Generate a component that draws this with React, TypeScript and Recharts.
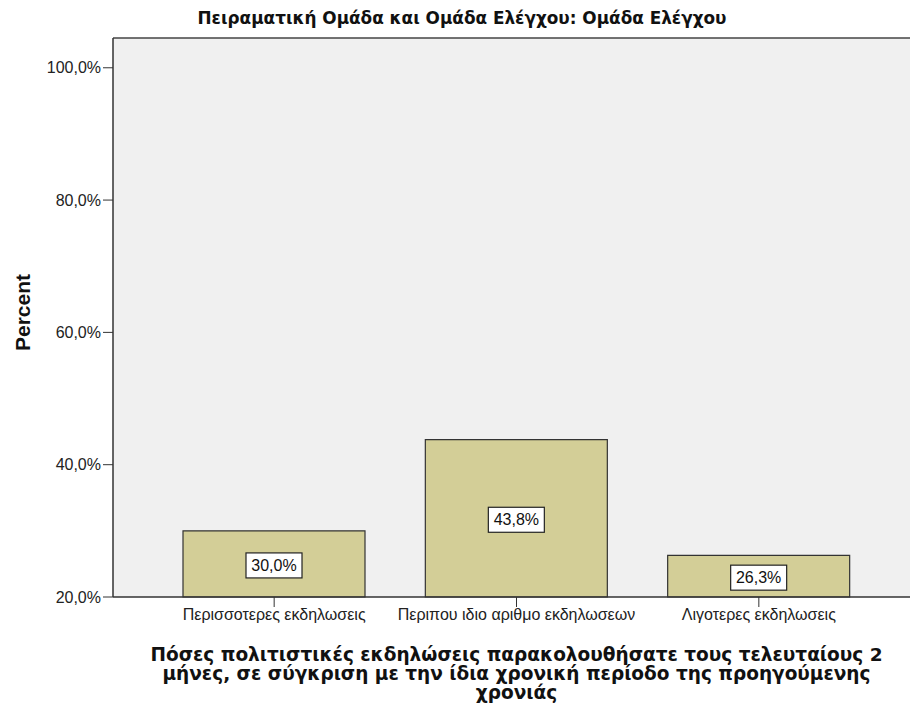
import { BarChart, Bar, XAxis, YAxis, CartesianGrid, ReferenceLine, LabelList, Label } from "recharts";

const categories = ["Περισσοτερες εκδηλωσεις", "Περιπου ιδιο αριθμο εκδηλωσεων", "Λιγοτερες εκδηλωσεις"];
const percents = [30.0, 43.8, 26.3];
const yTicks = [20, 40, 60, 80, 100];
const yMin = 20;
const yMax = 104.5;
const title = "Πειραματική Ομάδα και Ομάδα Ελέγχου: Ομάδα Ελέγχου";
const yTitle = "Percent";
const xTitleLines = [
  "Πόσες πολιτιστικές εκδηλώσεις παρακολουθήσατε τους τελευταίους 2",
  "μήνες, σε σύγκριση με την ίδια χρονική περίοδο της προηγούμενης",
  "χρονιάς",
];

const data = categories.map((name, i) => ({ name, percent: percents[i] }));
const fmt = (v: number) => v.toFixed(1).replace(".", ",") + "%";
const font = "'Liberation Sans', Arial, sans-serif";
const titleFont = "'DejaVu Sans', Verdana, sans-serif";

function ValueBox(props: any) {
  const { x, y, width, height, value } = props;
  const cx = x + width / 2;
  const cy = y + height / 2 + 1;
  return (
    <g>
      <rect x={cx - 28} y={cy - 12} width={56} height={25} fill="#fff" stroke="#222" strokeWidth={1.2} />
      <text x={cx} y={cy + 6} textAnchor="middle" fontSize={16} fill="#111" fontFamily={font}>
        {fmt(value)}
      </text>
    </g>
  );
}

function XTitle(props: any) {
  const { x, y, width } = props.viewBox;
  const cx = x + width / 2;
  return (
    <text textAnchor="middle" fontSize={18.5} fontWeight="bold" fill="#111" fontFamily={titleFont}>
      {xTitleLines.map((line, i) => (
        <tspan key={i} x={cx} y={y + 64 + i * 19}>
          {line}
        </tspan>
      ))}
    </text>
  );
}

function YTitle(props: any) {
  const { y, height } = props.viewBox;
  const cy = y + height / 2 - 5;
  return (
    <text x={22} y={cy} transform={`rotate(-90 22 ${cy})`} textAnchor="middle" dominantBaseline="central"
      fontSize={21} fontWeight="bold" fill="#111" fontFamily={font}>
      {yTitle}
    </text>
  );
}

export default function App() {
  return (
    <div style={{ position: "fixed", left: 0, top: 0, width: 910, height: 709, overflow: "hidden", background: "#fff" }}>
      <svg width={910} height={38} style={{ position: "absolute", left: 0, top: 0 }}>
        <text x={462} y={24} textAnchor="middle" fontSize={17} fontWeight="bold" fill="#111"
          textLength={529} lengthAdjust="spacingAndGlyphs"
          fontFamily="'Liberation Sans Narrow', 'DejaVu Sans Condensed', sans-serif">
          {title}
        </text>
      </svg>
      <BarChart width={920} height={709} data={data} margin={{ top: 38, right: 0, left: 0, bottom: 0 }}
        style={{ position: "absolute", left: 0, top: 0 }}>
        <CartesianGrid fill="#f0f0f0" horizontal={false} vertical={false} />
        <ReferenceLine y={yMax} stroke="#444" strokeWidth={1.5} ifOverflow="visible" />
        <XAxis dataKey="name" height={112} padding={{ left: 40, right: 40 }} tickSize={10}
          axisLine={{ stroke: "#333", strokeWidth: 1.5 }} tickLine={{ stroke: "#333" }}
          tick={{ fontSize: 16, fill: "#222", fontFamily: font }} interval={0}>
          <Label content={<XTitle />} />
        </XAxis>
        <YAxis type="number" domain={[yMin, yMax]} ticks={yTicks} width={113} tickSize={10}
          tickFormatter={fmt} axisLine={{ stroke: "#333", strokeWidth: 1.5 }} tickLine={{ stroke: "#333" }}
          tick={{ fontSize: 16, fill: "#222", fontFamily: font }}>
          <Label content={<YTitle />} />
        </YAxis>
        <Bar dataKey="percent" fill="#d3ce97" stroke="#333" strokeWidth={1.2} barSize={182} isAnimationActive={false}>
          <LabelList dataKey="percent" content={<ValueBox />} />
        </Bar>
      </BarChart>
    </div>
  );
}
